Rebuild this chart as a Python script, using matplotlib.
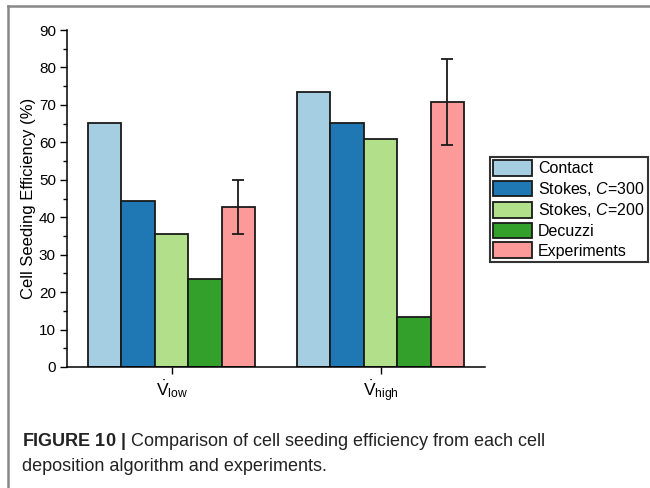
import matplotlib
matplotlib.use("Agg")
import matplotlib.pyplot as plt
import numpy as np
from matplotlib.lines import Line2D

plt.rcParams['font.family'] = ['Liberation Sans', 'DejaVu Sans']
plt.rcParams['mathtext.fontset'] = 'custom'
plt.rcParams['mathtext.rm'] = 'Liberation Sans'
plt.rcParams['mathtext.it'] = 'Liberation Sans:italic'
plt.rcParams['mathtext.bf'] = 'Liberation Sans:bold'

groups = [r'$\dot{\mathrm{V}}_{\mathrm{low}}$', r'$\dot{\mathrm{V}}_{\mathrm{high}}$']
series = ['Contact', 'Stokes, $\\mathit{C}$=300', 'Stokes, $\\mathit{C}$=200', 'Decuzzi', 'Experiments']
contact = [65.1, 73.4]
stokes300 = [44.2, 65.2]
stokes200 = [35.6, 61.0]
decuzzi = [23.4, 13.3]
experiments = [42.7, 70.7]
exp_err = [7.2, 11.5]
colors = ['#a6cee3', '#1f78b4', '#b2df8a', '#33a02c', '#fb9a99']

values = [contact, stokes300, stokes200, decuzzi, experiments]

fig = plt.figure(figsize=(6.5, 4.88), dpi=100)
ax = fig.add_axes([67/650, 1-367/488, (485-67)/650, (367-30)/488])

x = np.arange(len(groups))
w = 0.16
for i, (vals, name, c) in enumerate(zip(values, series, colors)):
    pos = x + (i - 2) * w
    if i == 4:
        ax.bar(pos, vals, w, color=c, edgecolor='#1a1a1a', linewidth=1.3, label=name,
               yerr=exp_err, error_kw=dict(ecolor='#1a1a1a', elinewidth=1.3, capsize=4, capthick=1.3))
    else:
        ax.bar(pos, vals, w, color=c, edgecolor='#1a1a1a', linewidth=1.3, label=name)

ax.set_xlim(-0.5, 1.5)
ax.set_ylim(0, 90)
ax.set_yticks(np.arange(0, 91, 10))
ax.set_yticks(np.arange(5, 90, 10), minor=True)
ax.set_xticks(x)
ax.set_xticklabels(groups, fontsize=12.5)
ax.tick_params(axis='y', which='major', direction='out', length=5, width=1, labelsize=11, pad=3)
ax.tick_params(axis='y', which='minor', direction='out', length=3, width=1)
ax.tick_params(axis='x', which='major', direction='out', length=5, width=1, pad=3)
for s in ['top', 'right']:
    ax.spines[s].set_visible(False)
for s in ['left', 'bottom']:
    ax.spines[s].set_linewidth(1.1)
ax.set_ylabel('Cell Seeding Efficiency (%)', fontsize=12)
ax.yaxis.set_label_coords(-0.074, 0.5)

leg = ax.legend(loc='upper left', bbox_to_anchor=(490/650, 1-157/488), bbox_transform=fig.transFigure,
                borderaxespad=0, borderpad=0.2, handlelength=2.4, handleheight=1.1,
                labelspacing=0.22, handletextpad=0.4, fancybox=False, framealpha=1,
                edgecolor='#333333', fontsize=11.5)
leg.get_frame().set_linewidth(1.5)

# figure border (top and left)
fig.add_artist(Line2D([8/650, 1], [1-6/488, 1-6/488], transform=fig.transFigure, color='#888888', lw=1.8))
fig.add_artist(Line2D([8/650, 8/650], [0, 1-6/488], transform=fig.transFigure, color='#888888', lw=1.8))

fig.text(22/650, 1-446/488, r'$\mathbf{FIGURE\ 10\ |}$ Comparison of cell seeding efficiency from each cell',
         fontsize=13, ha='left', va='baseline', color='#222222')
fig.text(22/650, 1-471/488, 'deposition algorithm and experiments.',
         fontsize=13, ha='left', va='baseline', color='#222222')

fig.savefig('out.png', dpi=100)
